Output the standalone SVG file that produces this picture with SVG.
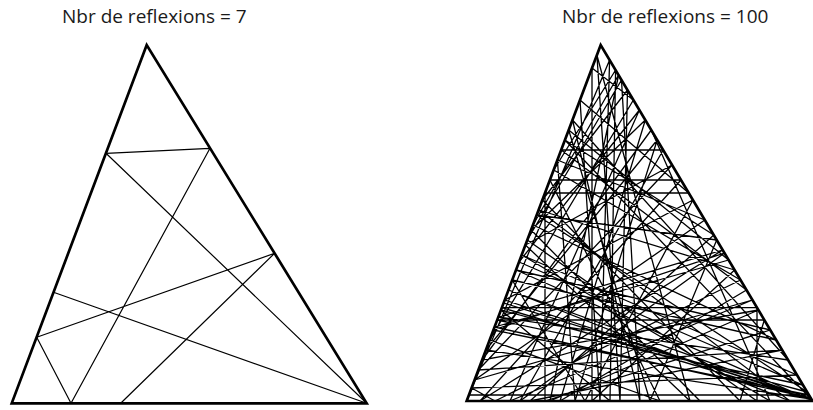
<svg xmlns="http://www.w3.org/2000/svg" width="813" height="410" viewBox="0 0 813 410">
<style>
.title{font-family:"Open Sans","Noto Sans",sans-serif;font-size:19px;fill:#1a1a1a}
.tri{fill:none;stroke:#000;stroke-width:2.7;stroke-linejoin:miter}
.ray{fill:none;stroke:#000;stroke-width:1.2;stroke-linejoin:round}
.ray2{fill:none;stroke:#000;stroke-width:1.3;stroke-linejoin:round}
</style>
<rect width="813" height="410" fill="#fff"/>
<g id="left-billiard">
<text class="title" x="62" y="23">Nbr de reflexions = 7</text>
<polygon class="tri" points="146.7,45 11.7,403.3 366.7,403.3"/>
<g id="left-connectors">
<polyline class="ray" points="120.7,403.3 274.6,253.3 36.7,337.3 71,403.3 210,148.3 106,153.3 366.7,403.3 53.5,292.3"/>
</g>
</g>
<g id="right-billiard">
<text class="title" x="562" y="23">Nbr de reflexions = 100</text>
<g id="right-connectors">
<polyline class="ray2" points="700,401 531.1,230 645.3,120 560,401 746.5,290 561.2,150 663.2,150 520,401 724.5,253 493.4,330 808.9,395 469.0,395 609.6,60 600,401 580.0,100 688.8,193 545.0,193 545,401 770.3,330 516.0,270 811,400 501.9,307.7 757,307.7 757,401 527.3,240 621.5,80 640,401 572.5,120 788.1,360 498.3,317 722.7,250 480,401 681.0,180 549.9,180 660,401 489.7,340 633.4,100 592.0,68 592,401 734.6,270 538.6,210 790,401 508.5,290 811.3,399 485.9,350 657.2,140 575,401 557.4,160 704.8,220 474.6,380 752.4,300 510,401 639.4,110 519.0,262 803.0,385 497.2,320 764.3,320 740,401 542.4,200 627.5,90 620,401 596.9,55 690,401 525.4,245 672.1,165 478.4,370 782.2,350 530,401 713.8,235 564.9,140 811.9,400 504.7,300 692.9,200 585,401 512.2,280 776.2,340 533.0,225 618.6,75 550,401 758.4,310 482.1,360 651.3,130 770,401 521.7,255 797.0,375 471.6,388 495,401 740.5,280 553.7,170 615.6,70 610,401 500.9,310 807.2,392 536.7,215 716.7,240 650,401 568.7,130 728.6,260 494.6,327 810.7,398 503.6,303"/>
</g>
<polygon class="tri" points="600.7,45 466.7,401 812.5,401"/>
</g>
</svg>
